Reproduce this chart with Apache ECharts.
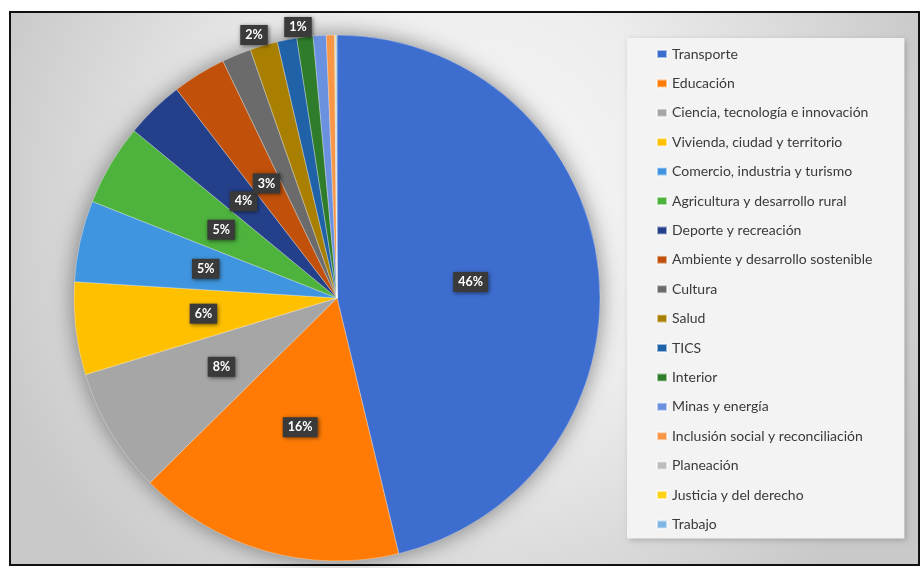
<!DOCTYPE html>
<html>
<head>
<meta charset="utf-8">
<script src="https://cdn.jsdelivr.net/npm/echarts@6/dist/echarts.min.js"></script>
<style>
  html, body { margin: 0; padding: 0; background: #ffffff; }
  #chart { width: 922px; height: 568px; }
</style>
</head>
<body>
<div id="chart"></div>
<script>
// Sectors in legend / slice order (clockwise from 12 o'clock)
const sectors = [
  'Transporte',
  'Educación',
  'Ciencia, tecnología e innovación',
  'Vivienda, ciudad y territorio',
  'Comercio, industria y turismo',
  'Agricultura y desarrollo rural',
  'Deporte y recreación',
  'Ambiente y desarrollo sostenible',
  'Cultura',
  'Salud',
  'TICS',
  'Interior',
  'Minas y energía',
  'Inclusión social y reconciliación',
  'Planeación',
  'Justicia y del derecho',
  'Trabajo'
];

// Share of the total, in percent
const shares = [46.3, 16.4, 7.7, 5.7, 5.0, 5.0, 3.6, 3.3, 1.8, 1.7, 1.2, 1.0, 0.8, 0.5, 0.05, 0.05, 0.05];

const sliceColors = [
  '#3d6dcf', '#ff7b05', '#a6a6a6', '#ffc000', '#3f95df', '#4db33d',
  '#24408a', '#c0500a', '#6b6b6b', '#a87f00', '#1f62a8', '#2f7d2b',
  '#6a90e0', '#f79646', '#bdbdbd', '#ffd21a', '#80b6e6'
];

// Slices whose rounded share is printed on the chart
const labelledInside = sectors.slice(0, 8);
const labelledAbove = ['Cultura', 'TICS'];

const chart = echarts.init(document.getElementById('chart'), null, { renderer: 'canvas' });

const FONT = 'Lato, "Open Sans", sans-serif';
const CENTER = [337, 298];
const RADIUS = 263;

const pieData = sectors.map((name, i) => {
  const inside = labelledInside.includes(name);
  const above = labelledAbove.includes(name);
  return {
    name: name,
    value: shares[i],
    itemStyle: { color: sliceColors[i] },
    label: inside ? { show: true, position: 'inside' }
         : above ? { show: true, position: 'outside' }
         : { show: false }
  };
});

const option = {
  backgroundColor: '#ffffff',
  animation: false,
  graphic: [{
    type: 'rect',
    z: -10,
    silent: true,
    shape: { x: 10, y: 12, width: 909, height: 553 },
    style: {
      fill: new echarts.graphic.RadialGradient(0.5, 0.35, 0.9, [
        { offset: 0, color: '#f8f8f8' },
        { offset: 0.45, color: '#ededed' },
        { offset: 1, color: '#c9c9c9' }
      ]),
      stroke: '#111111',
      lineWidth: 2
    }
  }],
  legend: {
    orient: 'vertical',
    left: 627,
    top: 38,
    padding: [9, 32, 7, 29],
    itemWidth: 10,
    itemHeight: 8,
    itemGap: 15.4,
    icon: 'rect',
    backgroundColor: '#f3f3f3',
    shadowBlur: 6,
    shadowColor: 'rgba(0,0,0,0.22)',
    shadowOffsetX: 2,
    shadowOffsetY: 2,
    selectedMode: false,
    data: sectors,
    textStyle: {
      fontFamily: FONT,
      fontSize: 14,
      lineHeight: 14,
      color: '#3a3a3a'
    }
  },
  series: [
    {
      // soft shadow disc under the pie
      type: 'pie',
      silent: true,
      z: 1,
      center: CENTER,
      radius: RADIUS,
      legendHoverLink: false,
      label: { show: false },
      labelLine: { show: false },
      itemStyle: {
        color: '#9a9a9a',
        shadowBlur: 22,
        shadowColor: 'rgba(0,0,0,0.45)'
      },
      data: [{ value: 1, name: 'sombra' }],
      tooltip: { show: false }
    },
    {
      type: 'pie',
      z: 2,
      center: CENTER,
      radius: RADIUS,
      startAngle: 90,
      clockwise: true,
      avoidLabelOverlap: false,
      itemStyle: {
        borderColor: 'rgba(255,255,255,0.55)',
        borderWidth: 0.6
      },
      emphasis: { disabled: true },
      labelLine: { show: false, length: 0, length2: 0 },
      label: {
        formatter: p => Math.round(p.percent) + '%',
        fontFamily: FONT,
        fontWeight: 'bold',
        fontSize: 12.5,
        color: '#ffffff',
        backgroundColor: '#3a3a3a',
        padding: [4, 5, 3, 5],
        shadowBlur: 4,
        shadowColor: 'rgba(0,0,0,0.55)',
        shadowOffsetX: 1,
        shadowOffsetY: 1
      },
      labelLayout: function (params) {
        const name = sectors[params.dataIndex];
        if (name === 'Cultura') {
          return { x: 254, y: 35, align: 'center', verticalAlign: 'middle' };
        }
        if (name === 'TICS') {
          return { x: 298, y: 27, align: 'center', verticalAlign: 'middle' };
        }
        return {};
      },
      data: pieData
    }
  ]
};

chart.setOption(option);
</script>
</body>
</html>
